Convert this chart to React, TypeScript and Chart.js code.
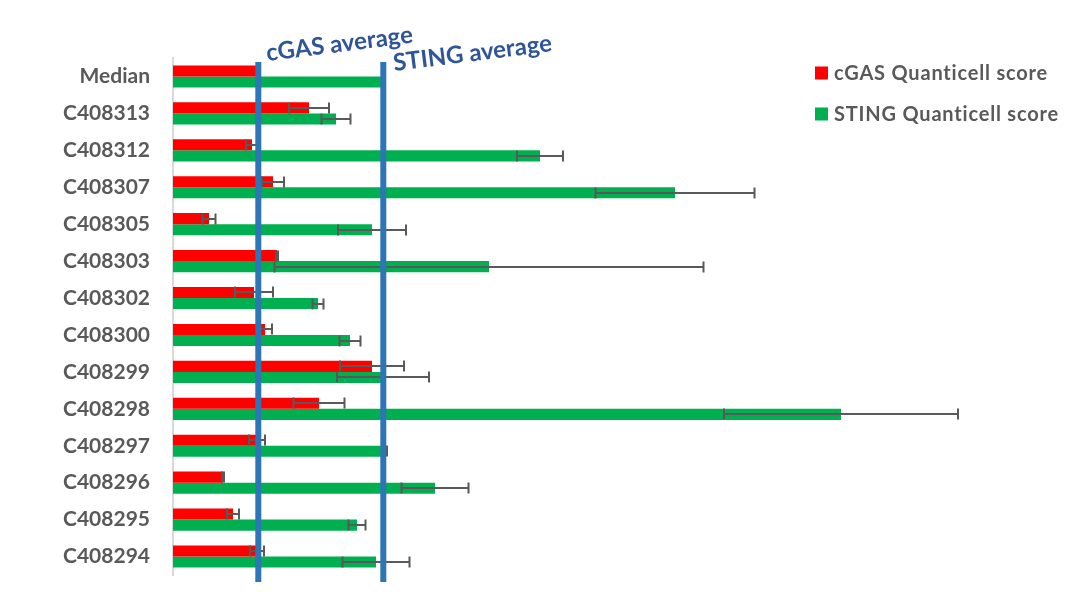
import { useEffect, useRef } from 'react';
import { Chart, registerables } from 'chart.js';

Chart.register(...registerables);

const categories = [
  'Median', 'C408313', 'C408312', 'C408307', 'C408305', 'C408303', 'C408302',
  'C408300', 'C408299', 'C408298', 'C408297', 'C408296', 'C408295', 'C408294',
];
const cgasValues = [8.5, 13.6, 7.9, 10.0, 3.6, 10.4, 8.1, 9.2, 19.9, 14.6, 8.4, 5.0, 6.0, 8.4];
const cgasErrors = [0, 2.0, 0.6, 1.1, 0.65, 0.1, 1.9, 0.7, 3.2, 2.55, 0.8, 0.1, 0.6, 0.7];
const stingValues = [20.8, 16.3, 36.7, 50.2, 19.9, 31.6, 14.5, 17.7, 21.0, 66.8, 21.2, 26.2, 18.4, 20.3];
const stingErrors = [0, 1.45, 2.3, 7.95, 3.4, 21.45, 0.55, 1.05, 4.6, 11.7, 0.2, 3.35, 0.85, 3.35];
const cgasAverage = 8.53;
const stingAverage = 21.03;
const xMax = 80;

const seriesNames = ['cGAS Quanticell score', 'STING Quanticell score'];
const averageLabels = ['cGAS average', 'STING average'];
const RED = '#FF0000';
const GREEN = '#00B050';
const LINE_BLUE = '#2E75B6';
const TEXT_BLUE = '#2F5597';
const GRAY = '#595959';

export default function App() {
  const ref = useRef<HTMLCanvasElement>(null);

  useEffect(() => {
    document.body.style.margin = '0';
    const canvas = ref.current;
    if (!canvas) return;

    const errorSets = [cgasErrors, stingErrors];
    const valueSets = [cgasValues, stingValues];

    const overlay = {
      id: 'overlay',
      afterDatasetsDraw(chart: any) {
        const ctx = chart.ctx;
        const xs = chart.scales.x;
        const area = chart.chartArea;
        ctx.save();
        // error bars
        ctx.strokeStyle = GRAY;
        ctx.lineWidth = 2;
        for (let d = 0; d < 2; d++) {
          const meta = chart.getDatasetMeta(d);
          meta.data.forEach((bar: any, i: number) => {
            const e = errorSets[d][i];
            const v = valueSets[d][i];
            if (!e) return;
            const x1 = xs.getPixelForValue(v - e);
            const x2 = xs.getPixelForValue(v + e);
            const y = Math.round(bar.y);
            const cap = 5.5;
            ctx.beginPath();
            ctx.moveTo(x1, y);
            ctx.lineTo(x2, y);
            ctx.moveTo(x1, y - cap);
            ctx.lineTo(x1, y + cap);
            ctx.moveTo(x2, y - cap);
            ctx.lineTo(x2, y + cap);
            ctx.stroke();
          });
        }
        // average lines
        const avgs = [cgasAverage, stingAverage];
        ctx.strokeStyle = LINE_BLUE;
        ctx.lineWidth = 6;
        avgs.forEach((a) => {
          const px = xs.getPixelForValue(a);
          ctx.beginPath();
          ctx.moveTo(px, area.top + 4);
          ctx.lineTo(px, area.bottom + 7);
          ctx.stroke();
        });
        // average labels
        ctx.fillStyle = TEXT_BLUE;
        ctx.font = 'bold 24px Lato';
        ctx.textAlign = 'left';
        ctx.textBaseline = 'alphabetic';
        const offs = [[9, area.top + 3], [11, area.top + 13]];
        avgs.forEach((a, k) => {
          const px = xs.getPixelForValue(a);
          ctx.save();
          ctx.translate(px + offs[k][0], offs[k][1]);
          ctx.rotate((-7.2 * Math.PI) / 180);
          ctx.fillText(averageLabels[k], 0, 0);
          ctx.restore();
        });
        // legend
        const colors = [RED, GREEN];
        const ly = [73, 114];
        ctx.font = 'bold 20px Lato';
        (ctx as any).letterSpacing = '0.8px';
        ctx.textBaseline = 'middle';
        for (let k = 0; k < 2; k++) {
          ctx.fillStyle = colors[k];
          ctx.fillRect(815, ly[k] - 6.5, 13, 13);
          ctx.fillStyle = GRAY;
          ctx.fillText(seriesNames[k], 834, ly[k] + 1);
        }
        (ctx as any).letterSpacing = '0px';
        ctx.restore();
      },
    };

    const chart = new Chart(canvas, {
      type: 'bar',
      data: {
        labels: categories,
        datasets: [
          {
            label: seriesNames[0],
            data: cgasValues,
            backgroundColor: RED,
            categoryPercentage: 0.6,
            barPercentage: 1.0,
          },
          {
            label: seriesNames[1],
            data: stingValues,
            backgroundColor: GREEN,
            categoryPercentage: 0.6,
            barPercentage: 1.0,
          },
        ],
      },
      options: {
        indexAxis: 'y',
        animation: false,
        responsive: false,
        devicePixelRatio: 1,
        layout: { padding: { left: 0, top: 58, bottom: 17, right: 102 } },
        plugins: {
          legend: { display: false },
          tooltip: { enabled: false },
        },
        scales: {
          x: {
            display: false,
            min: 0,
            max: xMax,
          },
          y: {
            grid: { display: false, drawTicks: false },
            border: { display: true, color: '#D9D9D9', width: 2 },
            ticks: {
              padding: 23,
              color: GRAY,
              font: { family: 'Lato', weight: 'bold', size: 21 },
            },
            afterFit(scale: any) {
              scale.width = 173;
              scale.paddingTop = 0;
              scale.paddingBottom = 0;
            },
          },
        },
      },
      plugins: [overlay],
    });

    return () => chart.destroy();
  }, []);

  return (
    <div style={{ width: 1075, height: 592, position: 'relative' }}>
      <canvas ref={ref} width={1075} height={592} style={{ display: 'block' }} />
    </div>
  );
}
